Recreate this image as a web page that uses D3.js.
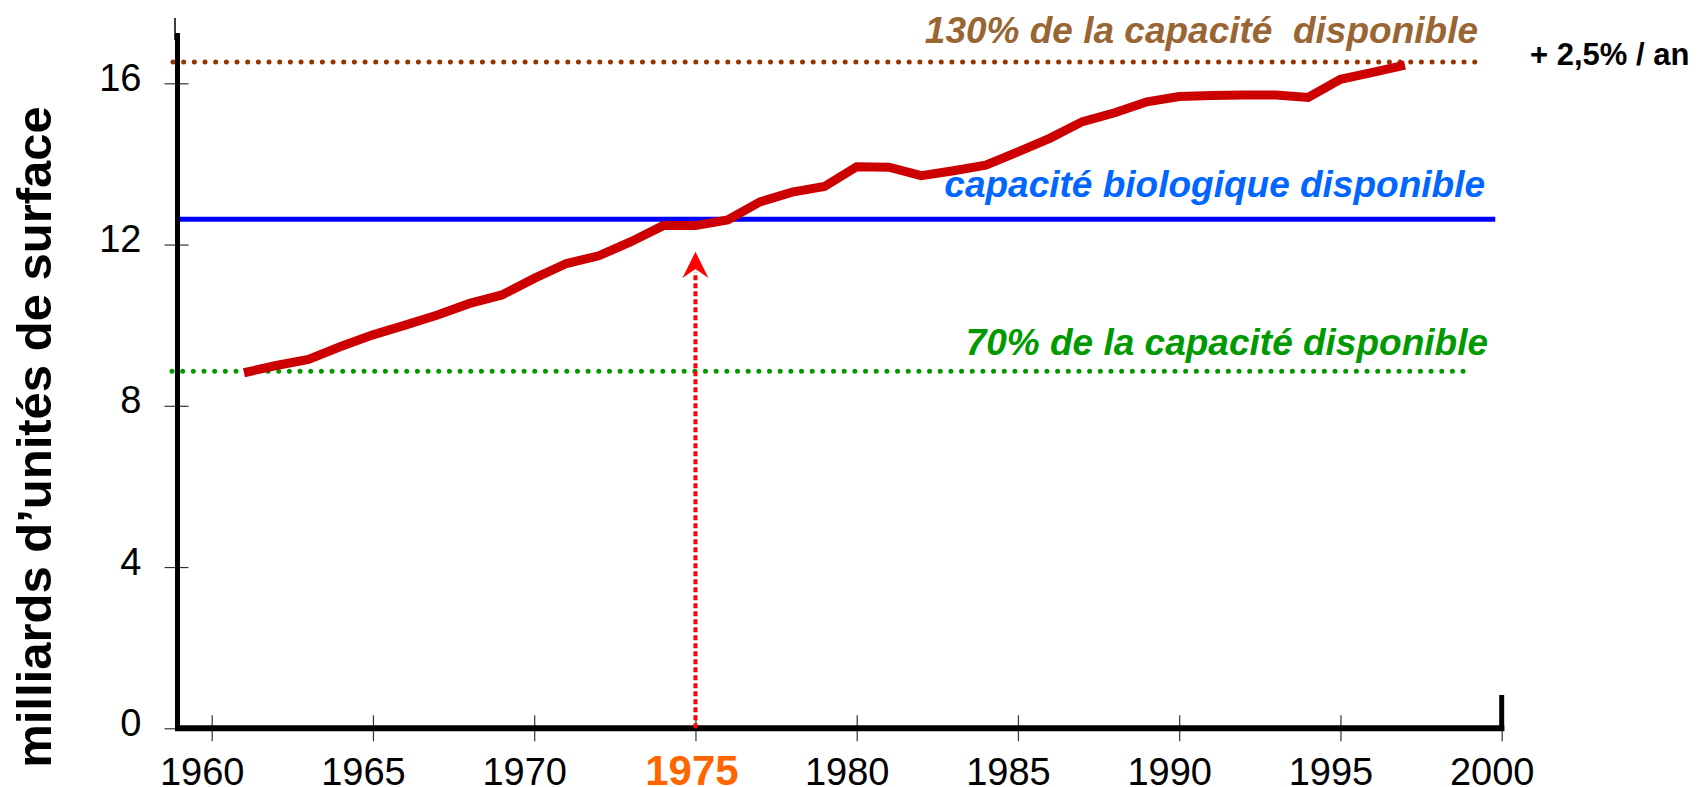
<!DOCTYPE html>
<html>
<head>
<meta charset="utf-8">
<script src="https://cdn.jsdelivr.net/npm/d3@7"></script>
<style>
  body { margin: 0; background: #fff; }
  text { font-family: "Liberation Sans", Arial, Helvetica, sans-serif; }
</style>
</head>
<body>
<svg width="1699" height="787"></svg>
<script>
// empreinte écologique mondiale, milliards d'unités de surface
var years = [1961, 1962, 1963, 1964, 1965, 1966, 1967, 1968, 1969, 1970,
             1971, 1972, 1973, 1974, 1975, 1976, 1977, 1978, 1979, 1980,
             1981, 1982, 1983, 1984, 1985, 1986, 1987, 1988, 1989, 1990,
             1991, 1992, 1993, 1994, 1995, 1996, 1997];
var values = [8.82, 9.0, 9.15, 9.47, 9.76, 10.0, 10.25, 10.54, 10.75, 11.16,
              11.53, 11.72, 12.07, 12.47, 12.47, 12.61, 13.06, 13.3, 13.44, 13.93,
              13.92, 13.71, 13.83, 13.97, 14.3, 14.64, 15.05, 15.27, 15.54, 15.67,
              15.7, 15.71, 15.71, 15.65, 16.1, 16.27, 16.45];

var capacity = 12.63;      // capacité biologique disponible
var capacity130 = 16.53;   // 130%
var capacity70 = 8.86;     // 70%
var markYear = 1975;

var xTicks = [1960, 1965, 1970, 1975, 1980, 1985, 1990, 1995, 2000];
var yTicks = [0, 4, 8, 12, 16];

var labelHigh = "130% de la capacité  disponible";
var labelCap = "capacité biologique disponible";
var labelLow = "70% de la capacité disponible";
var labelRate = "+ 2,5% / an";
var yTitle = "milliards d\u2019unités de surface";

var data = years.map(function (d, i) {
    return {year: d, value: values[i]};
});

var svg = d3.select("svg");

var x = d3.scaleLinear().domain([1960, 2000]).range([211.7, 1501.7]),
    y = d3.scaleLinear().domain([0, 16]).range([728.3, 83.3]);

var axisX0 = 177.5;  // position of the vertical axis

// reference lines
svg.append("line")
    .attr("x1", 173).attr("x2", x(1999.2))
    .attr("y1", y(capacity130)).attr("y2", y(capacity130))
    .attr("stroke", "#993300")
    .attr("stroke-width", 5)
    .attr("stroke-linecap", "round")
    .attr("stroke-dasharray", "0,10.67");

svg.append("line")
    .attr("x1", 172).attr("x2", x(1998.9))
    .attr("y1", y(capacity70)).attr("y2", y(capacity70))
    .attr("stroke", "#009900")
    .attr("stroke-width", 5)
    .attr("stroke-linecap", "round")
    .attr("stroke-dasharray", "0,10.67");

svg.append("line")
    .attr("x1", axisX0).attr("x2", x(1999.8))
    .attr("y1", y(capacity)).attr("y2", y(capacity))
    .attr("stroke", "#0000ff")
    .attr("stroke-width", 5);

// x axis ticks and labels
var xAxis = svg.append("g")
    .attr("transform", "translate(0," + y(0) + ")")
    .call(d3.axisBottom(x).tickValues(xTicks).tickSize(13).tickFormat(d3.format("d")));
xAxis.select(".domain").remove();
xAxis.selectAll(".tick line")
    .attr("y1", -13)
    .attr("stroke", "#333")
    .attr("stroke-width", 1.2);
xAxis.selectAll(".tick text")
    .attr("y", 57)
    .attr("dy", null)
    .attr("dx", function (d) { return d == markYear ? -4 : -10; })
    .attr("fill", function (d) { return d == markYear ? "#ff6600" : "#000"; })
    .style("font-size", function (d) { return d == markYear ? "42px" : "38px"; })
    .style("font-weight", function (d) { return d == markYear ? "bold" : "normal"; })
    .style("font-family", "'Liberation Sans', Arial, sans-serif");

// y axis ticks and labels
var yAxis = svg.append("g")
    .attr("transform", "translate(" + axisX0 + ",0)")
    .call(d3.axisLeft(y).tickValues(yTicks).tickSize(13));
yAxis.select(".domain").remove();
yAxis.selectAll(".tick line")
    .attr("x1", 11)
    .attr("stroke", "#333")
    .attr("stroke-width", 1.2);
yAxis.selectAll(".tick text")
    .attr("x", -36)
    .attr("dy", 7)
    .attr("fill", "#000")
    .style("font-size", "38px")
    .style("font-family", "'Liberation Sans', Arial, sans-serif");

// axis frame lines
svg.append("line")
    .attr("x1", 175).attr("x2", 175).attr("y1", 18).attr("y2", 40)
    .attr("stroke", "#000").attr("stroke-width", 1.5);
svg.append("line")
    .attr("x1", axisX0).attr("x2", axisX0).attr("y1", 33).attr("y2", 731)
    .attr("stroke", "#000").attr("stroke-width", 5);
svg.append("line")
    .attr("x1", 175).attr("x2", 1504.3).attr("y1", y(0)).attr("y2", y(0))
    .attr("stroke", "#000").attr("stroke-width", 6);
svg.append("line")
    .attr("x1", x(2000)).attr("x2", x(2000)).attr("y1", 695).attr("y2", 731)
    .attr("stroke", "#000").attr("stroke-width", 5);

// 1975 arrow
svg.append("line")
    .attr("x1", x(markYear)).attr("x2", x(markYear))
    .attr("y1", y(0)).attr("y2", 272)
    .attr("stroke", "#ff0000")
    .attr("stroke-width", 4)
    .attr("stroke-dasharray", "5,3");
var ax = x(markYear);
svg.append("path")
    .attr("d", "M" + ax + ",251.7 L" + (ax + 13) + ",278 L" + ax + ",269 L" + (ax - 13) + ",278 Z")
    .attr("fill", "#ff0000");

// footprint line
var line = d3.line()
    .x(function (d) { return x(d.year); })
    .y(function (d) { return y(d.value); });

svg.append("path")
    .datum(data)
    .attr("d", line)
    .attr("fill", "none")
    .attr("stroke", "#cc0000")
    .attr("stroke-width", 9);

// annotations
svg.append("text")
    .attr("x", 1478).attr("y", 43)
    .attr("text-anchor", "end")
    .attr("fill", "#996633")
    .style("font", "italic bold 37px 'Liberation Sans', Arial, sans-serif")
    .style("white-space", "pre")
    .text(labelHigh);

svg.append("text")
    .attr("x", 1485).attr("y", 197)
    .attr("text-anchor", "end")
    .attr("fill", "#0066ff")
    .style("font", "italic bold 37px 'Liberation Sans', Arial, sans-serif")
    .text(labelCap);

svg.append("text")
    .attr("x", 1488).attr("y", 355)
    .attr("text-anchor", "end")
    .attr("fill", "#009900")
    .style("font", "italic bold 37px 'Liberation Sans', Arial, sans-serif")
    .text(labelLow);

svg.append("text")
    .attr("x", 1530).attr("y", 65)
    .attr("fill", "#000")
    .style("font", "bold 31px 'Liberation Sans', Arial, sans-serif")
    .text(labelRate);

svg.append("text")
    .attr("transform", "translate(51,437) rotate(-90)")
    .attr("text-anchor", "middle")
    .attr("fill", "#000")
    .style("font", "bold 49px 'Liberation Sans', Arial, sans-serif")
    .text(yTitle);
</script>
</body>
</html>
